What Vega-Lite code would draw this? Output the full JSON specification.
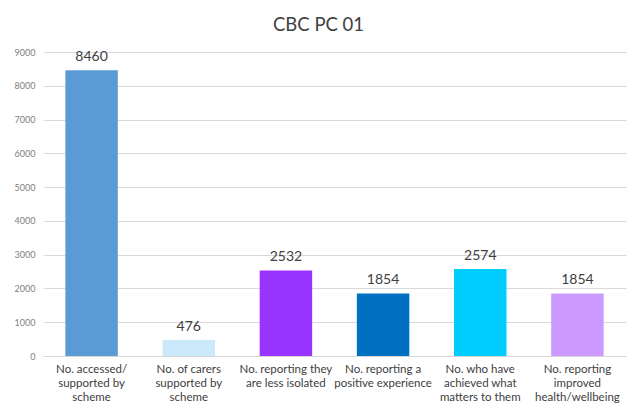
{
  "$schema": "https://vega.github.io/schema/vega-lite/v6.json",
  "autosize": "none",
  "width": 583,
  "height": 304,
  "padding": {"left": 43, "top": 52, "right": 11, "bottom": 55},
  "background": "white",
  "title": {
    "text": "CBC PC 01",
    "fontSize": 18.5,
    "font": "Lato",
    "fontWeight": "normal",
    "color": "#404040",
    "dx": -16,
    "offset": 14
  },
  "data": {
    "values": [
      {"category": "No. accessed/ supported by scheme", "value": 8460, "color": "#5B9BD5"},
      {"category": "No. of carers supported by scheme", "value": 476, "color": "#CCE9FB"},
      {"category": "No. reporting they are less isolated", "value": 2532, "color": "#9933FF"},
      {"category": "No. reporting a positive experience", "value": 1854, "color": "#0070C0"},
      {"category": "No. who have achieved what matters to them", "value": 2574, "color": "#00CCFF"},
      {"category": "No. reporting improved health/wellbeing", "value": 1854, "color": "#CC99FF"}
    ]
  },
  "config": {
    "view": {"stroke": null},
    "font": "Lato"
  },
  "encoding": {
    "x": {
      "field": "category",
      "type": "nominal",
      "sort": null,
      "title": null,
      "scale": {"paddingInner": 0.46, "paddingOuter": 0.23},
      "axis": {
        "labelAngle": 0,
        "ticks": false,
        "domain": true,
        "domainColor": "#D9D9D9",
        "labelFontSize": 11.5,
        "labelColor": "#404040",
        "labelFont": "Lato",
        "labelPadding": 7,
        "labelLineHeight": 14,
        "labelLimit": 200,
        "labelOverlap": false,
        "labelExpr": "{'No. accessed/ supported by scheme': ['No. accessed/','supported by','scheme'], 'No. of carers supported by scheme': ['No. of carers','supported by','scheme'], 'No. reporting they are less isolated': ['No. reporting they','are less isolated'], 'No. reporting a positive experience': ['No. reporting a','positive experience'], 'No. who have achieved what matters to them': ['No. who have','achieved what','matters to them'], 'No. reporting improved health/wellbeing': ['No. reporting','improved','health/wellbeing']}[datum.label]"
      }
    },
    "y": {
      "field": "value",
      "type": "quantitative",
      "title": null,
      "scale": {"domain": [0, 9000], "nice": false},
      "axis": {
        "values": [0, 1000, 2000, 3000, 4000, 5000, 6000, 7000, 8000, 9000],
        "format": "d",
        "domain": false,
        "ticks": false,
        "grid": true,
        "gridColor": "#D9D9D9",
        "labelOverlap": false,
        "labelFlush": false,
        "labelFontSize": 9,
        "labelColor": "#808080",
        "labelPadding": 8
      }
    }
  },
  "layer": [
    {
      "mark": {"type": "bar"},
      "encoding": {
        "color": {"field": "color", "type": "nominal", "scale": null}
      }
    },
    {
      "mark": {"type": "text", "baseline": "bottom", "dy": -6, "fontSize": 14, "color": "#404040", "font": "Lato"},
      "encoding": {
        "text": {"field": "value", "type": "quantitative", "format": "d"}
      }
    }
  ]
}
